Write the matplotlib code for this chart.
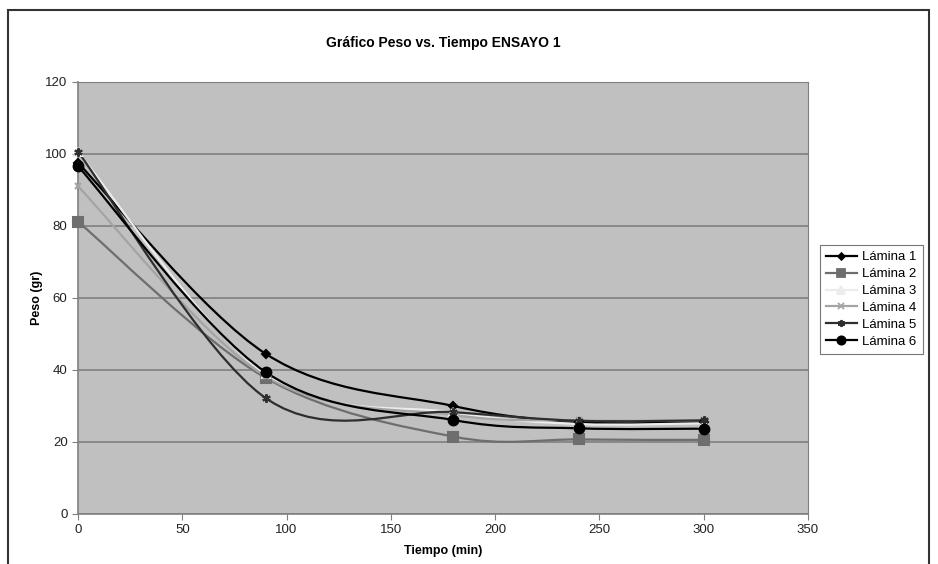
import numpy as np
import matplotlib
matplotlib.use("Agg")
import matplotlib.pyplot as plt
from matplotlib.path import Path
from matplotlib.patches import PathPatch, Rectangle

plt.rcParams["font.family"] = ["Liberation Sans", "DejaVu Sans"]

tiempo = [0, 90, 180, 240, 300]
lamina1 = [97.5, 44.5, 30.0, 25.5, 25.5]
lamina2 = [81.2, 37.8, 21.5, 20.7, 20.6]
lamina3 = [100.5, 38.8, 28.2, 25.0, 25.2]
lamina4 = [91.0, 38.2, 27.5, 26.0, 26.0]
lamina5 = [100.6, 32.2, 28.3, 25.9, 26.0]
lamina6 = [96.6, 39.4, 26.1, 23.8, 23.7]

series = [
    ("Lámina 1", lamina1, "#000000", "D", 4),
    ("Lámina 2", lamina2, "#6e6e6e", "s", 7),
    ("Lámina 3", lamina3, "#ececec", "^", 6),
    ("Lámina 4", lamina4, "#a4a4a4", "x", 5),
    ("Lámina 5", lamina5, "#2e2e2e", (6, 2, 0), 6),
    ("Lámina 6", lamina6, "#000000", "o", 7),
]


def smooth_path(x, y):
    # excel style smoothed line: bezier segments between the points
    p = np.column_stack([x, y]).astype(float)
    ext = np.vstack([p[0], p, p[-1]])
    verts = [p[0]]
    codes = [Path.MOVETO]
    for i in range(1, len(ext) - 2):
        p0, p1, p2, p3 = ext[i - 1], ext[i], ext[i + 1], ext[i + 2]
        verts += [p1 + (p2 - p0) / 6, p2 - (p3 - p1) / 6, p2]
        codes += [Path.CURVE4] * 3
    return Path(verts, codes)


fig = plt.figure(figsize=(9.38, 5.64), dpi=100)
ax = fig.add_axes([78 / 938, 1 - 514 / 564, 730 / 938, 432 / 564])
ax.set_facecolor("#c0c0c0")

for name, vals, col, mk, ms in series:
    ax.add_patch(PathPatch(smooth_path(tiempo, vals), fill=False,
                           edgecolor=col, lw=1.6, zorder=3))
    ax.plot(tiempo, vals, ls="none", marker=mk, ms=ms, color=col,
            mec=col, mew=1.5, zorder=4, clip_on=False)
    ax.plot([], [], color=col, lw=1.6, marker=mk, ms=ms * 0.85, mew=1.3,
            label=name)

ax.set_xlim(0, 350)
ax.set_ylim(0, 120)
ax.set_xticks(range(0, 351, 50))
ax.set_yticks(range(0, 121, 20))
ax.yaxis.grid(True, color="#808080", lw=1.2)
ax.set_axisbelow(True)
for s in ["top", "right"]:
    ax.spines[s].set_color("#808080")
for s in ["left", "bottom"]:
    ax.spines[s].set_color("#808080")
    ax.spines[s].set_linewidth(1.2)
ax.tick_params(colors="#808080", labelcolor="#222222", labelsize=9.5,
               length=4, direction="out")

ax.set_title("Gráfico Peso vs. Tiempo ENSAYO 1", fontsize=10,
             fontweight="bold", pad=25)
ax.set_xlabel("Tiempo (min)", fontsize=9, fontweight="bold", labelpad=6)
ax.set_ylabel("Peso (gr)", fontsize=9, fontweight="bold", labelpad=2)

leg = fig.legend(loc="upper left", bbox_to_anchor=(813 / 938, 1 - 238 / 564),
                 fontsize=9.5, frameon=True, fancybox=False,
                 handlelength=2.3, labelspacing=0.35, borderpad=0.5,
                 handletextpad=0.4)
leg.get_frame().set_edgecolor("#555555")
leg.get_frame().set_linewidth(0.8)

fig.patches.append(Rectangle((8 / 938, -0.01), 921 / 938, 1 - 10 / 564 + 0.01,
                             transform=fig.transFigure, fill=False,
                             edgecolor="#333333", lw=1.5))

fig.savefig("out.png", dpi=100)
